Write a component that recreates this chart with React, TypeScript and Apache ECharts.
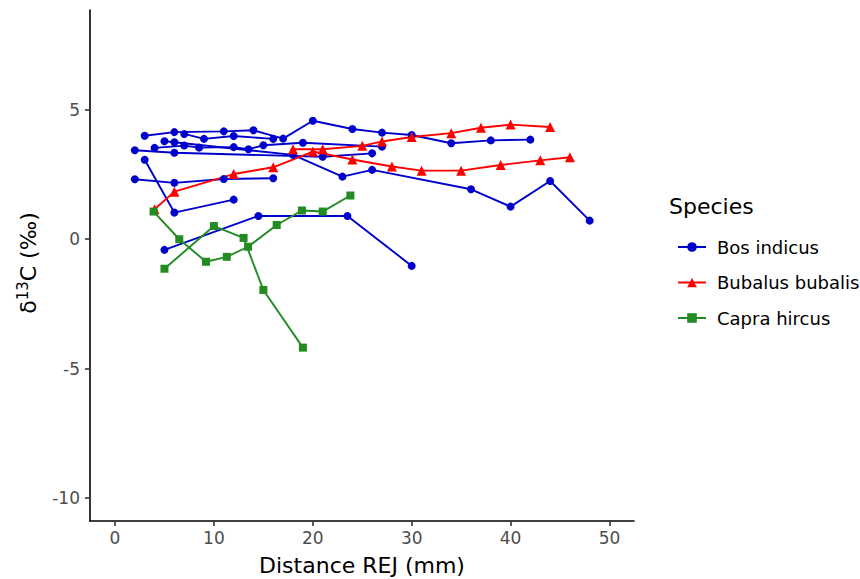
import React, { useEffect, useRef } from "react";
import * as echarts from "echarts";

// Bos indicus specimens: [distance REJ (mm), d13C]
const bos1 = [[3, 4.0], [6, 4.14], [11, 4.17], [14, 4.21], [17, 3.89], [20, 4.58], [24, 4.26], [27, 4.12], [30, 4.03], [34, 3.71], [38, 3.82], [42, 3.85]];
const bos2 = [[7, 4.07], [9, 3.88], [12, 3.99], [16, 3.88]];
const bos3 = [[5, 3.79], [6, 3.75], [18, 3.26], [23, 2.42], [26, 2.68], [36, 1.93], [40, 1.26], [44, 2.25], [48, 0.72]];
const bos4 = [[4, 3.53], [7, 3.62], [8.5, 3.54], [12, 3.56], [13.5, 3.48], [15, 3.63], [19, 3.73], [27, 3.58]];
const bos5 = [[2, 3.44], [6, 3.34], [21, 3.19], [26, 3.32]];
const bos6 = [[3, 3.07], [6, 1.03], [12, 1.53]];
const bos7 = [[2, 2.32], [6, 2.18], [11, 2.33], [16, 2.36]];
const bos8 = [[5, -0.41], [14.5, 0.9], [23.5, 0.9], [30, -1.03]];

// Bubalus bubalis specimens
const bub1 = [[4, 1.16], [6, 1.84], [12, 2.52], [16, 2.78], [20, 3.39], [24, 3.08], [28, 2.81], [31, 2.65], [35, 2.65], [39, 2.87], [43, 3.05], [46, 3.17]];
const bub2 = [[18, 3.48], [21, 3.48], [25, 3.61], [27, 3.78], [30, 3.95], [34, 4.1], [37, 4.31], [40, 4.43], [44, 4.34]];

// Capra hircus specimens
const cap1 = [[3.9, 1.07], [6.5, 0.0], [9.2, -0.87], [11.3, -0.68], [13.45, -0.29], [16.35, 0.55], [18.9, 1.11], [21, 1.07], [23.8, 1.69]];
const cap2 = [[5, -1.14], [10, 0.51], [13, 0.05], [15, -1.96], [19, -4.19]];

const xTicks = [0, 10, 20, 30, 40, 50];
const yTicks = [-10, -5, 0, 5];

const speciesNames = ["Bos indicus", "Bubalus bubalis", "Capra hircus"];

const FONT = "DejaVu Sans";

export default function App() {
  const ref = useRef<HTMLDivElement>(null);
  useEffect(() => {
    if (!ref.current) return;
    const chart = echarts.init(ref.current, null, { renderer: "svg" });
    const mk = (name: string, data: number[][], color: string, symbol: string, size: number) => ({
      type: "line",
      name,
      data,
      symbol,
      symbolSize: size,
      showSymbol: true,
      lineStyle: { color, width: 1.9 },
      itemStyle: { color },
      z: 2,
    });
    const blue = "#0000CD";
    const red = "#FF0000";
    const green = "#228B22";
    const series: any[] = [];
    [bos1, bos2, bos3, bos4, bos5, bos6, bos7, bos8].forEach((d) => series.push(mk(speciesNames[0], d, blue, "circle", 8)));
    [bub1, bub2].forEach((d) => series.push(mk(speciesNames[1], d, red, "triangle", 10)));
    [cap1, cap2].forEach((d) => series.push(mk(speciesNames[2], d, green, "rect", 8)));

    chart.setOption({
      animation: false,
      backgroundColor: "#ffffff",
      textStyle: { fontFamily: FONT },
      grid: { left: 90, top: 10, width: 544, height: 511, containLabel: false },
      xAxis: {
        type: "value",
        min: -2.53,
        max: 52.48,
        splitLine: { show: false },
        axisLine: { show: true, onZero: false, lineStyle: { color: "#000", width: 1.6 } },
        axisTick: { show: true, length: 5, customValues: xTicks, lineStyle: { color: "#333", width: 1.6 } },
        axisLabel: { customValues: xTicks, color: "#4d4d4d", fontSize: 17, margin: 8, fontFamily: FONT },
      },
      yAxis: {
        type: "value",
        min: -10.89,
        max: 8.86,
        splitLine: { show: false },
        axisLine: { show: true, onZero: false, lineStyle: { color: "#000", width: 1.6 } },
        axisTick: { show: true, length: 5, customValues: yTicks, lineStyle: { color: "#333", width: 1.6 } },
        axisLabel: { customValues: yTicks, color: "#4d4d4d", fontSize: 17, margin: 10, fontFamily: FONT },
      },
      legend: {
        data: speciesNames,
        orient: "vertical",
        left: 672,
        top: 233,
        itemWidth: 28,
        itemHeight: 12,
        itemGap: 17.5,
        textStyle: { fontSize: 18, color: "#000", fontFamily: FONT, padding: [0, 0, 0, 6] },
      },
      graphic: [
        {
          type: "text",
          left: 669,
          top: 195,
          style: { text: "Species", fontSize: 22, fill: "#000", fontFamily: FONT },
        },
        {
          type: "text",
          x: 362,
          y: 565,
          style: { text: "Distance REJ (mm)", fontSize: 22, fill: "#000", fontFamily: FONT, align: "center", verticalAlign: "middle" },
        },
        {
          type: "text",
          x: 28,
          y: 263,
          rotation: Math.PI / 2,
          style: {
            text: "{a|δ}{b|13}{a|C (‰)}",
            align: "center",
            verticalAlign: "middle",
            rich: {
              a: { fontSize: 22, fill: "#000", fontFamily: FONT, lineHeight: 26 },
              b: { fontSize: 15, fill: "#000", fontFamily: FONT, verticalAlign: "top", lineHeight: 26 },
            },
          },
        },
      ],
      series,
    });
    return () => chart.dispose();
  }, []);
  return <div ref={ref} style={{ position: "fixed", left: 0, top: 0, width: 860, height: 579 }} />;
}
